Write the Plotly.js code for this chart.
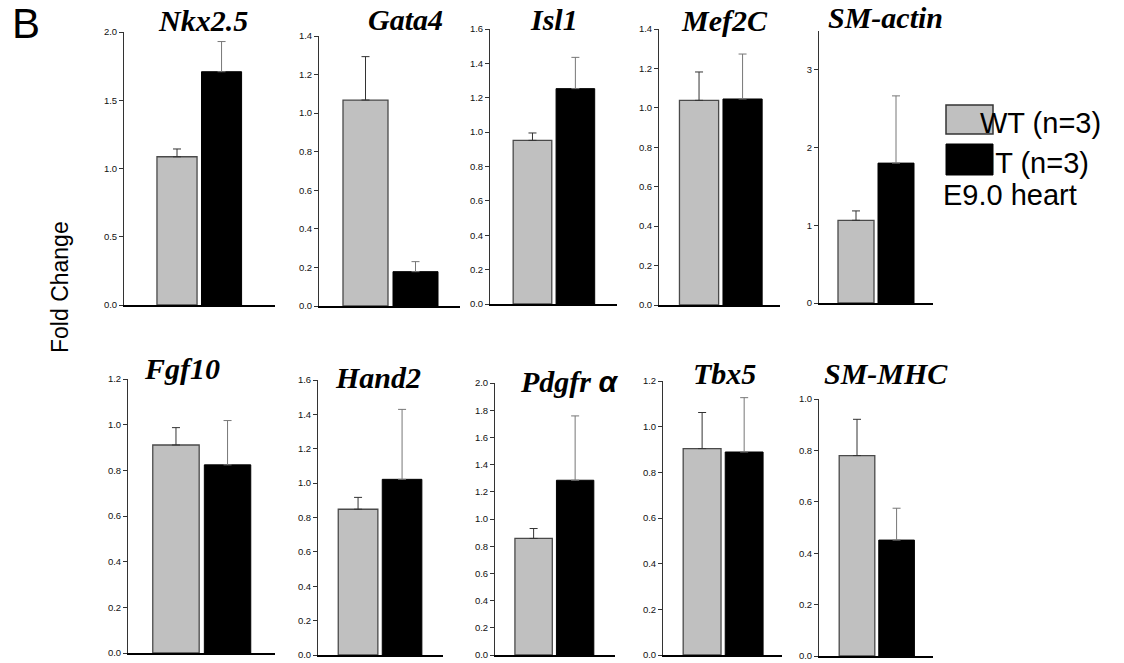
<!DOCTYPE html>
<html>
<head>
<meta charset="utf-8">
<script src="https://cdn.plot.ly/plotly-3.0.1.min.js"></script>
<style>html,body{margin:0;padding:0;background:#fff;}#chart{width:1124px;height:663px;}</style>
</head>
<body>
<div id="chart"></div>
<script>
// ---- data ----
const genes = ["Nkx2.5", "Gata4", "Isl1", "Mef2C", "SM-actin", "Fgf10", "Hand2", "Pdgfr <span style=\"font-family:'Liberation Sans'\">α</span>", "Tbx5", "SM-MHC"];
const groups = ["WT", "MT"];
const legendLabels = ["WT (n=3)", "MT (n=3)"];
const wtMean = [1.086, 1.068, 0.952, 1.038, 1.064, 0.911, 0.848, 0.857, 0.904, 0.780];
const wtSem  = [0.057, 0.225, 0.043, 0.144, 0.121, 0.076, 0.069, 0.073, 0.158, 0.141];
const mtMean = [1.709, 0.178, 1.253, 1.045, 1.800, 0.824, 1.022, 1.285, 0.889, 0.451];
const mtSem  = [0.221, 0.052, 0.182, 0.228, 0.865, 0.194, 0.407, 0.473, 0.238, 0.124];
const yMax   = [2.0, 1.4, 1.6, 1.4, 3.5, 1.2, 1.6, 2.0, 1.2, 1.0];
const yStep  = [0.5, 0.2, 0.2, 0.2, 1, 0.2, 0.2, 0.2, 0.2, 0.2];
const yTickFmt = [".1f", ".1f", ".1f", ".1f", "d", ".1f", ".1f", ".1f", ".1f", ".1f"];

// ---- layout geometry (pixels) ----
const W = 1124, H = 663;
const geom = [
  {x0:124, x1:275, yZero:305, yTop:32,  xr:[-1.19, 2.20]},
  {x0:319, x1:460, yZero:306, yTop:36,  xr:[-0.93, 1.89]},
  {x0:490, x1:617, yZero:304, yTop:29,  xr:[-0.99, 1.97]},
  {x0:659, x1:780, yZero:305, yTop:29,  xr:[-0.92, 1.86]},
  {x0:819, x1:933, yZero:303, yTop:31,  xr:[-0.925, 1.925]},
  {x0:128, x1:275, yZero:653, yTop:379, xr:[-0.93, 1.92]},
  {x0:318, x1:443, yZero:655, yTop:380, xr:[-0.91, 1.93]},
  {x0:495, x1:615, yZero:655, yTop:383, xr:[-0.93, 1.96]},
  {x0:663, x1:782, yZero:655, yTop:381, xr:[-0.93, 1.90]},
  {x0:819, x1:933, yZero:656, yTop:399, xr:[-0.96, 1.92]}
];
const titlePos = [
  [203, 20], [405, 19], [554, 19], [724, 20], [885, 17],
  [182, 368], [378, 377], [569, 382], [724, 373], [886, 373]
];

const px = x => x / W;
const py = y => 1 - y / H;

const traces = [];
const layout = {
  width: W, height: H,
  margin: {l:0, r:0, t:0, b:0},
  paper_bgcolor: '#fff', plot_bgcolor: 'rgba(0,0,0,0)',
  showlegend: false,
  barmode: 'overlay',
  annotations: [], shapes: []
};

genes.forEach((g, i) => {
  const n = i + 1;
  const xa = 'x' + (n === 1 ? '' : n), ya = 'y' + (n === 1 ? '' : n);
  traces.push({
    type: 'bar', x: [groups[0]], y: [wtMean[i]], xaxis: xa, yaxis: ya, width: 0.9,
    marker: {color: '#c0c0c0', line: {color: '#4a4a4a', width: 1.3}},
    error_y: {type: 'data', symmetric: false, array: [wtSem[i]], arrayminus: [0], color: '#333', thickness: 1, width: 4},
    hoverinfo: 'skip'
  });
  traces.push({
    type: 'bar', x: [groups[1]], y: [mtMean[i]], xaxis: xa, yaxis: ya, width: 0.9,
    marker: {color: '#000', line: {color: '#000', width: 1}},
    error_y: {type: 'data', symmetric: false, array: [mtSem[i]], arrayminus: [0], color: '#777', thickness: 1, width: 4},
    hoverinfo: 'skip'
  });
  const gm = geom[i];
  const xKey = 'xaxis' + (n === 1 ? '' : n), yKey = 'yaxis' + (n === 1 ? '' : n);
  layout[xKey] = {
    domain: [px(gm.x0), px(gm.x1)], anchor: ya, type: 'category',
    categoryorder: 'array', categoryarray: groups,
    range: gm.xr, showline: true, linecolor: '#000', linewidth: 1.5,
    showticklabels: false, ticks: '', showgrid: false, zeroline: false, fixedrange: true
  };
  layout[yKey] = {
    domain: [py(gm.yZero), py(gm.yTop)], anchor: xa,
    range: [0, yMax[i]], dtick: yStep[i], tick0: 0, tickformat: yTickFmt[i],
    showline: true, linecolor: '#333', linewidth: 1,
    ticks: 'outside', ticklen: 4, tickcolor: '#333', tickwidth: 1,
    tickfont: {family: 'Liberation Sans, Arial, sans-serif', size: 9.5, color: '#111'},
    showgrid: false, zeroline: false, fixedrange: true
  };
  layout.annotations.push({
    xref: 'paper', yref: 'paper', x: px(titlePos[i][0]), y: py(titlePos[i][1]),
    xanchor: 'center', yanchor: 'middle', showarrow: false,
    text: '<b><i>' + g + '</i></b>',
    font: {family: 'Liberation Serif, Times New Roman, serif', size: 30, color: '#000'}
  });
});

// legend (drawn manually, as in the figure)
layout.shapes.push(
  {type: 'rect', xref: 'paper', yref: 'paper', x0: px(946), x1: px(993), y0: py(134), y1: py(105),
   fillcolor: '#c0c0c0', line: {color: '#333', width: 1.5}, layer: 'below'},
  {type: 'rect', xref: 'paper', yref: 'paper', x0: px(946), x1: px(993), y0: py(175), y1: py(144),
   fillcolor: '#000', line: {color: '#000', width: 1}, layer: 'below'}
);
const legFont = {family: 'Liberation Sans, Arial, sans-serif', size: 29, color: '#000'};
layout.annotations.push(
  {xref:'paper', yref:'paper', x: px(978), y: py(123), xanchor:'left', yanchor:'middle', showarrow:false, text: legendLabels[0], font: legFont},
  {xref:'paper', yref:'paper', x: px(969), y: py(163), xanchor:'left', yanchor:'middle', showarrow:false, text: legendLabels[1], font: legFont},
  {xref:'paper', yref:'paper', x: px(941), y: py(195), xanchor:'left', yanchor:'middle', showarrow:false, text: 'E9.0 heart', font: legFont},
  {xref:'paper', yref:'paper', x: px(60), y: py(287), xanchor:'center', yanchor:'middle', showarrow:false, textangle: -90,
   text: 'Fold Change', font: {family: 'Liberation Sans, Arial, sans-serif', size: 23, color: '#000'}},
  {xref:'paper', yref:'paper', x: px(26), y: py(24), xanchor:'center', yanchor:'middle', showarrow:false,
   text: 'B', font: {family: 'Liberation Sans, Arial, sans-serif', size: 42, color: '#000'}}
);

Plotly.newPlot('chart', traces, layout, {staticPlot: true, displayModeBar: false});
</script>
</body>
</html>
